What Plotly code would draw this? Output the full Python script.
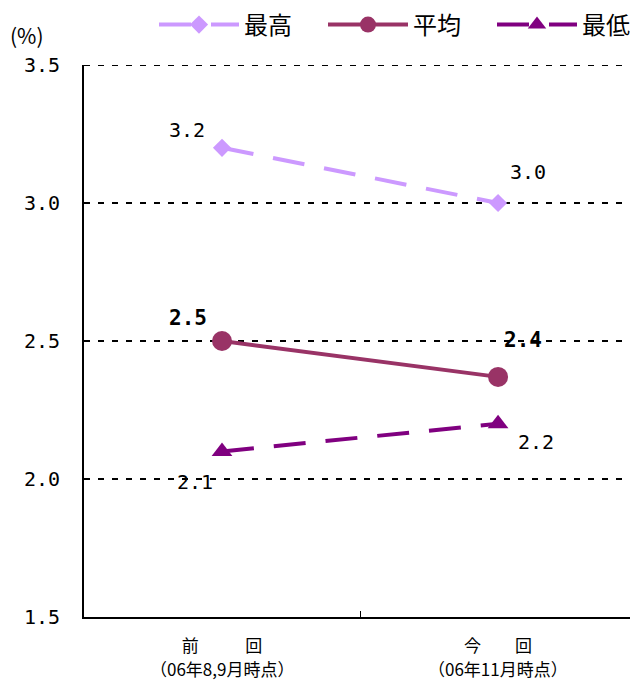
import plotly.graph_objects as go

# Survey periods (category axis), first and second line of each label
categories = ["前　　\u2002 回", "今　　回"]
period_notes = ["（06年8,9月時点）", "（06年11月時点）"]

# Forecast values (%)
series_names = ["最高", "平均", "最低"]
highest = [3.2, 3.0]
average = [2.5, 2.37]
lowest = [2.1, 2.2]

y_ticks = [1.5, 2.0, 2.5, 3.0, 3.5]

CJK = "Noto Sans CJK JP"
NUM = "DejaVu Sans Mono"

styles = {
    "最高": dict(color="#CC99FF", dash="32px,20px", symbol="diamond", size=14),
    "平均": dict(color="#993366", dash="solid", symbol="circle", size=20),
    "最低": dict(color="#800080", dash="32px,20px", symbol="triangle-up", size=18),
}

fig = go.Figure()
for name, vals in zip(series_names, [highest, average, lowest]):
    s = styles[name]
    fig.add_trace(go.Scatter(
        x=categories, y=vals, name=name, mode="lines+markers",
        line=dict(color=s["color"], width=4, dash=s["dash"]),
        marker=dict(symbol=s["symbol"], size=s["size"], color=s["color"]),
        cliponaxis=False,
    ))

# Value labels: (series values, per-point pixel offsets, bold?)
label_specs = [
    (highest, [(-35, 18), (30, 31)], False),
    (average, [(-34, 23), (25, 37)], True),
    (lowest, [(-27, -31), (38, -18)], False),
]
for vals, offsets, bold in label_specs:
    for cat, v, (dx, dy) in zip(categories, vals, offsets):
        txt = f"{v:.1f}"
        fig.add_annotation(
            x=cat, y=v, xref="x", yref="y", text=f"<b>{txt}</b>" if bold else txt,
            showarrow=False, xshift=dx, yshift=dy,
            font=dict(family=NUM, size=21 if bold else 20, color="black"),
        )

# Second line of the category labels
for cat, note in zip(categories, period_notes):
    fig.add_annotation(
        x=cat, y=0, xref="x", yref="y domain", text=note, showarrow=False,
        yanchor="middle", yshift=-51,
        font=dict(family=CJK, size=17, color="black"),
    )

# Unit label
fig.add_annotation(
    x=(8 - 84) / 546, y=(617 - 35) / 552, xref="x domain", yref="y domain",
    text="(%)", showarrow=False, xanchor="left", yanchor="middle",
    font=dict(family=CJK, size=21, color="black"),
)

# Dashed line along the top of the value range
fig.add_shape(
    type="line", xref="x domain", yref="y", x0=0, x1=1, y0=y_ticks[-1], y1=y_ticks[-1],
    line=dict(color="black", width=2, dash="6px,8px"),
)

fig.update_layout(
    width=630, height=680,
    margin=dict(l=84, r=0, t=65, b=63),
    paper_bgcolor="white", plot_bgcolor="white",
    font=dict(family=CJK, color="black"),
    showlegend=True,
    legend=dict(
        orientation="h", xref="container", yref="container",
        x=154 / 630, y=1 - 25 / 680, xanchor="left", yanchor="middle",
        itemwidth=80, entrywidth=74, entrywidthmode="pixels",
        font=dict(family=CJK, size=24, color="black"),
        bgcolor="rgba(0,0,0,0)", tracegroupgap=0,
    ),
    xaxis=dict(
        type="category", range=[-0.5, 1.478],
        showline=True, linecolor="black", linewidth=2,
        showgrid=False, zeroline=False,
        tickson="boundaries", ticks="inside", ticklen=6, tickwidth=1, tickcolor="black",
        ticklabelstandoff=13,
        tickfont=dict(family=CJK, size=17, color="black"),
    ),
    yaxis=dict(
        range=[1.5, 3.5], tickvals=y_ticks, ticktext=[f"{t:.1f}" for t in y_ticks],
        showline=True, linecolor="black", linewidth=2,
        showgrid=True, gridcolor="black", gridwidth=2, griddash="6px,8px",
        zeroline=False, ticks="", ticklabelstandoff=18,
        tickfont=dict(family=NUM, size=20, color="black"),
    ),
)

fig.write_html("out.html")
